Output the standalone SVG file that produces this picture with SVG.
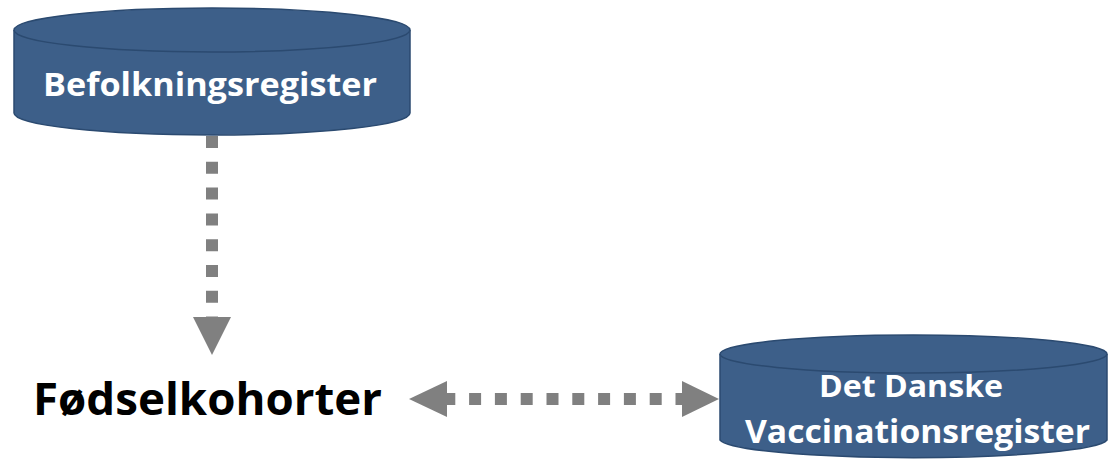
<svg xmlns="http://www.w3.org/2000/svg" width="1108" height="459" viewBox="0 0 1108 459">
<style>
.cyl{fill:#3d5f89;stroke:#2b4a70;stroke-width:1.5}
.lbl{font-family:"Open Sans","Liberation Sans",sans-serif;font-weight:bold;fill:#ffffff;text-anchor:middle}
.dash{stroke:#808080;stroke-width:12;fill:none;stroke-dasharray:12 13.8}
.head{fill:#808080}
</style>
<rect width="1108" height="459" fill="#ffffff"/>
<g id="node-befolkning">
<path class="cyl" d="M14,30 L14,113 A198,22 0 0 0 410,113 L410,30"/>
<ellipse class="cyl" cx="212" cy="30" rx="198" ry="22"/>
<text class="lbl" x="210" y="96" font-size="32" textLength="334" lengthAdjust="spacingAndGlyphs">Befolkningsregister</text>
</g>
<g id="node-foedsel">
<text x="33" y="415" font-family="'Open Sans','Liberation Sans',sans-serif" font-weight="bold" font-size="45" fill="#000000" textLength="349" lengthAdjust="spacingAndGlyphs">Fødselkohorter</text>
</g>
<g id="node-vaccination">
<path class="cyl" d="M720,354 L720,440 A194,19 0 0 0 1107,440 L1107,354"/>
<ellipse class="cyl" cx="913.5" cy="354" rx="193.5" ry="19"/>
<text class="lbl" x="911" y="397" font-size="31" textLength="184" lengthAdjust="spacingAndGlyphs">Det Danske</text>
<text class="lbl" x="917.5" y="443" font-size="32" textLength="345" lengthAdjust="spacingAndGlyphs">Vaccinationsregister</text>
</g>
<g id="connectors">
<line class="dash" x1="212" y1="136" x2="212" y2="317"/>
<polygon class="head" points="193,317 231,317 212,355"/>
<line class="dash" x1="447" y1="399" x2="682" y2="399" style="stroke-dashoffset:3.7"/>
<polygon class="head" points="447,381 447,417 409,399"/>
<polygon class="head" points="682,381 682,417 719,399"/>
</g>
</svg>
